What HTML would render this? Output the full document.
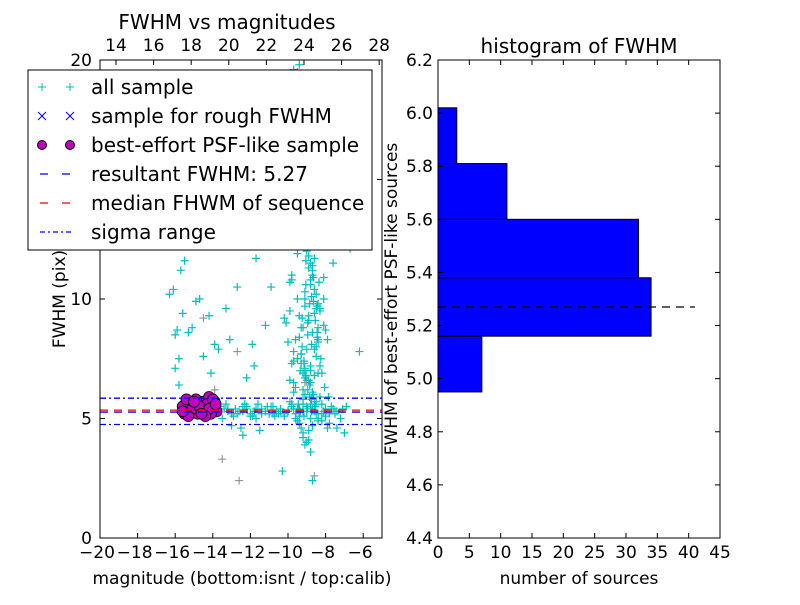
<!DOCTYPE html>
<html><head><meta charset="utf-8"><style>
body{margin:0;background:#fff;font-family:"Liberation Sans","DejaVu Sans",sans-serif}
svg text{font-family:"DejaVu Sans","Liberation Sans",sans-serif}
</style></head><body>
<svg id="c" width="800" height="600" xmlns="http://www.w3.org/2000/svg"></svg>
<script>
// ---- left chart data ----
const allMag=[-15.4,-15.2,-15,-14.8,-14.6,-14.3,-14,-13.8,-13.6,-13.4,-13.2,-13,-12.8,-12.6,-12.4,-12.2,-12,-11.8,-11.6,-11.4,-11.2,-11,-10.8,-10.6,-10.4,-10.2,-10,-9.8,-9.6,-9.4,-9.2,-9,-8.8,-8.6,-8.4,-8.2,-8,-7.8,-7.6,-7.4,-7.2,-7,-12.9,-12.3,-11.7,-11.1,-10.5,-9.9,-9.5,-9.1,-8.7,-8.3,-7.9,-7.5,-13.3,-11.9,-10.9,-9.7,-8.9,-8.1,
-10,-9.9,-9.8,-9.7,-9.6,-9.5,-9.4,-9.3,-9.2,-9.1,-9,-8.9,-8.8,-8.7,-8.6,-8.5,-8.4,-9.6,-9.4,-9.2,-9,-8.8,-8.6,-9.5,-9.3,-9.1,-8.9,-8.7,-9.7,-9.5,-9.3,-9.1,-9.4,-9.2,-9,-9.6,-9.3,-9.5,-9.2,-9.9,-9.7,-9.4,-9.1,-8.8,-10.4,-10.8,-11.2,-10.2,-9.8,-9.6,-8.3,-8.1,-9.4,-9.3,-9.6,-9.2,-9.8,-10.1,-9.5,-9.4,-9.7,-10.6,-11.5,-10.9,-11.9,-12.3,-8.5,-8.2,
-16.3,-16.1,-15.9,-15.7,-15.5,-16,-15.8,-15.3,-14.7,-14.2,-13.9,-13.3,-13.7,-14.5,-15.1,-15.6,-14.9,-12.7,-12.2,-11.8,-13.1,-14.1,-15.8,-16,
-11.7,-10.6,-9.9,-8.1,-7.6,-6.7,-6.2,-8.4,-8.7,-9.2,-10.3,-12.4,
-9.3,-9.2,-9.1,-9.0,-8.9,-8.8,-8.7,-8.6,-8.5,-8.4,-9.25,-9.15,-9.05,-8.95,-8.85,-8.75,-8.65,-8.55,-8.45,-9.3,-9.1,-8.9,-8.7,-8.5,-9.2,-9.0,-8.8,-8.6,-8.4,-9.35,-9.05,-8.75,-8.45,-9.15,-8.85,-8.55,-9.25,-8.95,-8.65,-8.35,-9.0,-8.8,-8.6,-8.7,-8.9,-9.1,-8.5,-8.3,-8.2,-8.1,-8.0,-7.9,-8.25,-8.05,-7.85,-8.6,-8.4,-8.2,-9.4,-9.6,
-13,-12.5,-12,-11.5,-11,-10.5,-10,-9.5,-9,-8.5,-8,-7.5,-12.7,-12.2,-11.7,-11.2,-10.7,-10.2,-9.7,-9.2,-8.7,-8.2,-7.7,-13.2,-12.4,-11.4,-10.4,-9.4,-8.4,-7.4,-7.1,-6.9,-11.8,-10.8,-9.8,-8.8,-7.8,-13.5,-14.5,-15.0,
-9.45,-9.35,-9.15,-8.95,-8.75,-8.55,-9.05,-8.85,-8.65,-8.45,-9.25,-8.95,-8.75,-8.6,-8.8,-9.0,-9.2,-8.4,-8.3,-8.5,-8.7,-8.9,-9.1,-9.3];
const allFwhm=[5.3,5.4,5.2,5.5,5.3,5.4,5.2,5.3,5.5,5.4,5.3,5.2,5.4,5.3,5.5,5.4,5.2,5.3,5.6,5.4,5.3,5.2,5.5,5.3,5.4,5.1,5.3,5.6,5.2,5.4,5.8,5.5,5.0,5.3,4.9,5.6,5.1,4.8,5.4,4.6,5.0,4.4,5.1,5.6,5.0,5.5,5.2,5.7,4.9,6.0,4.7,5.9,4.6,5.2,5.6,5.1,5.5,6.1,4.5,5.3,
8.2,9.5,11,6.5,12.8,7.5,14.2,8.8,15.5,10.3,16.8,9.1,7.2,13.6,11.7,8,9.8,17.5,18.9,13.2,12.1,10.6,6.8,19.5,15.9,14.6,11.3,8.6,7.8,10,12.4,7,9.3,6.2,16.2,18.1,13.8,15,17,6.6,7.4,8.4,9.7,11.5,14.9,12.9,8.9,9.2,10.8,8.3,9.6,10.9,12.6,7.7,6.3,6.9,7.3,9,11.9,19.8,19.6,13.4,16.5,10.5,8.1,14.1,12.2,13.1,10.2,10.4,8.7,11.2,11.6,7.1,
7.5,8.6,10,9.3,8.1,9.6,7.9,7.6,8.8,9.4,9.9,10.5,6.7,7.2,8.3,6.9,6.4,8.5,11.7,12.4,10.7,10,11.5,12.1,
7.8,6.9,2.4,4.4,2.8,4.3,4.6,4.2,3.9,4.0,4.1,3.6,
11.2,10.4,9.6,8.8,8.0,7.4,6.8,6.2,5.9,5.8,9.9,9.1,8.4,7.7,7.1,6.6,6.1,5.7,5.6,12.0,10.8,9.4,8.2,7.0,11.6,10.1,8.6,7.3,6.4,13.0,12.4,9.0,6.0,10.7,7.9,6.5,12.8,11.4,9.3,6.7,7.6,7.2,6.9,8.9,8.7,8.3,7.5,6.3,5.9,5.6,5.2,4.9,4.8,5.0,4.7,4.6,5.1,4.5,12.6,13.5,
5.3,5.4,5.3,5.2,5.4,5.3,5.2,5.5,5.4,5.3,5.1,5.2,5.4,5.3,5.4,5.2,5.5,5.4,5.3,5.2,5.3,5.1,5.0,5.3,5.4,5.5,5.3,5.2,5.5,5.6,5.2,5.0,5.2,5.4,5.6,5.3,5.1,5.4,5.3,5.5,
10.6,9.8,10.9,9.7,9.2,8.5,8.1,7.9,7.0,6.6,8.8,8.3,9.5,10.2,11.0,11.8,10.0,7.3,6.9,6.3,6.0,5.8,5.6,7.8];
const roughMag=[-13.5,-12.6,-8.6,-14.5,-12.7,-9.1,-11.2,-13.9];
const roughFwhm=[3.3,2.4,2.6,9.2,7.8,6.5,12.2,6.2];
const bestMag=[-15.6,-15.4,-15.2,-15,-14.8,-14.6,-14.4,-14.2,-14,-13.8,-15.5,-15.1,-14.9,-14.5,-14.3,-14.1,-13.9,-15.3,-14.7,-14.2,-14,-15.6,-14.4,-15,-14.6,-13.85];
const bestFwhm=[5.5,5.8,5.3,5.6,5.2,5.7,5.4,5.9,5.5,5.3,5.2,5.4,5.8,5.3,5.6,5.2,5.7,5.1,5.5,5.4,5.8,5.3,5.1,5.7,5.2,5.6];
const resultFwhm=5.27, medianFwhm=5.35, sigmaLo=4.75, sigmaHi=5.85;
const xTicks=[-20,-18,-16,-14,-12,-10,-8,-6];
const xTickLabels=['\u221220','\u221218','\u221216','\u221214','\u221212','\u221210','\u22128','\u22126'];
const yTicks=[0,5,10,15,20];
const topTicks=[14,16,18,20,22,24,26,28];
// ---- right histogram data ----
const binEdges=[4.95,5.16,5.38,5.60,5.81,6.02];
const counts=[7,34,32,11,3];
const hTicksX=[0,5,10,15,20,25,30,35,40,45];
const hTicksY=[4.4,4.6,4.8,5.0,5.2,5.4,5.6,5.8,6.0,6.2];

const svg=document.getElementById('c');const NS='http://www.w3.org/2000/svg';
function el(t,a,p){const e=document.createElementNS(NS,t);for(const k in a)e.setAttribute(k,a[k]);(p||svg).appendChild(e);return e;}
function tx(s,x,y,a){const e=el('text',Object.assign({x:x,y:y,'font-size':17,fill:'#000','text-anchor':'middle'},a||{}));e.textContent=s;return e;}
const L={x0:100,x1:382,y0:60,y1:538};
const mx=v=>L.x0+(v+20)/15*(L.x1-L.x0);
const my=v=>L.y1-v/20*(L.y1-L.y0);
const mtop=v=>mx(v-33.15);
const gL=el('g',{});

el('clipPath',{id:'cl'}).appendChild(el('rect',{x:L.x0,y:L.y0,width:L.x1-L.x0,height:L.y1-L.y0}));
const gP=el('g',{'clip-path':'url(#cl)'},gL);
for(let i=0;i<allMag.length;i++){const x=mx(allMag[i]),y=my(allFwhm[i]);
 const p=el('path',{d:`M${x-4},${y}H${x+4}M${x},${y-4}V${y+4}`,stroke:'#00bfbf','stroke-width':1.2},gP);
 }
for(let i=0;i<roughMag.length;i++){const x=mx(roughMag[i]),y=my(roughFwhm[i]);
 const p=el('path',{d:`M${x-4},${y}H${x+4}M${x},${y-4}V${y+4}`,stroke:'#888','stroke-width':1},gP);
 }
for(let i=0;i<bestMag.length;i++){const c=el('circle',{cx:mx(bestMag[i]),cy:my(bestFwhm[i]),r:5.5,fill:'#bf00bf',stroke:'#000','stroke-width':0.8},gP);
 }
function hl(v,col,dash,name){const l=el('line',{x1:L.x0,x2:L.x1,y1:my(v),y2:my(v),stroke:col,'stroke-width':1.3,'stroke-dasharray':dash},gP);
 }
hl(sigmaHi,'#0000ff','6,3,2,3','sigma-upper-line');hl(sigmaLo,'#0000ff','6,3,2,3','sigma-lower-line');
hl(medianFwhm,'#ff0000','8,6','median-line');hl(resultFwhm,'#0000ff','8,6','result-line');
el('rect',{x:L.x0,y:L.y0,width:L.x1-L.x0,height:L.y1-L.y0,fill:'none',stroke:'#000'},gL);
xTicks.forEach((t,i)=>{const x=mx(t);el('line',{x1:x,x2:x,y1:L.y1,y2:L.y1-5,stroke:'#000'},gL);tx(xTickLabels[i],x-3,L.y1+20);});
topTicks.forEach(t=>{const x=mtop(t);el('line',{x1:x,x2:x,y1:L.y0,y2:L.y0+5,stroke:'#000'},gL);tx(String(t),x,L.y0-9);});
yTicks.forEach(t=>{const y=my(t);el('line',{x1:L.x0,x2:L.x0+5,y1:y,y2:y,stroke:'#000'},gL);el('line',{x1:L.x1,x2:L.x1-5,y1:y,y2:y,stroke:'#000'},gL);tx(String(t),L.x0-8,y+6,{'text-anchor':'end'});});
const t1=tx('FWHM vs magnitudes',227,29,{'font-size':20});
const xl=tx('magnitude (bottom:isnt / top:calib)',242,584);
const yl=tx('FWHM (pix)',65,299,{transform:'rotate(-90 65 299)'});
const lg=el('g',{});
el('rect',{x:28,y:70,width:344,height:180,fill:'#fff',stroke:'#000'},lg);
const labels=['all sample','sample for rough FWHM','best-effort PSF-like sample','resultant FWHM: 5.27','median FHWM of sequence','sigma range'];
labels.forEach((s,i)=>{const y=87+i*29;
 [42,70].forEach(x=>{
  if(i==0)el('path',{d:`M${x-4},${y}H${x+4}M${x},${y-4}V${y+4}`,stroke:'#00bfbf'},lg);
  if(i==1)el('path',{d:`M${x-4},${y-4}L${x+4},${y+4}M${x+4},${y-4}L${x-4},${y+4}`,stroke:'#0000ff'},lg);
  if(i==2)el('circle',{cx:x,cy:y,r:4.5,fill:'#bf00bf',stroke:'#000'},lg);});
 if(i==3)el('line',{x1:40,x2:74,y1:y,y2:y,stroke:'#0000ff','stroke-width':1.3,'stroke-dasharray':'8,14'},lg);
 if(i==4)el('line',{x1:40,x2:74,y1:y,y2:y,stroke:'#ff0000','stroke-width':1.3,'stroke-dasharray':'8,14'},lg);
 if(i==5)el('line',{x1:40,x2:74,y1:y,y2:y,stroke:'#0000ff','stroke-width':1.3,'stroke-dasharray':'5,3,2,3'},lg);
 const t=tx(s,91,y+7,{'text-anchor':'start','font-size':20},lg);});
const R={x0:438,x1:720,y0:60,y1:538};
const hx=v=>R.x0+v/45*(R.x1-R.x0);
const hy=v=>R.y1-(v-4.4)/1.8*(R.y1-R.y0);
const gR=el('g',{});
counts.forEach((c,i)=>{const r=el('rect',{x:hx(0),y:hy(binEdges[i+1]),width:hx(c)-hx(0),height:hy(binEdges[i])-hy(binEdges[i+1]),fill:'#0000ff',stroke:'#000'},gR);
 });
const dl=el('line',{x1:hx(0),x2:hx(41),y1:hy(resultFwhm),y2:hy(resultFwhm),stroke:'#000','stroke-width':1.3,'stroke-dasharray':'8,6'},gR);

el('rect',{x:R.x0,y:R.y0,width:R.x1-R.x0,height:R.y1-R.y0,fill:'none',stroke:'#000'},gR);
hTicksX.forEach(t=>{const x=hx(t);el('line',{x1:x,x2:x,y1:R.y1,y2:R.y1-5,stroke:'#000'},gR);el('line',{x1:x,x2:x,y1:R.y0,y2:R.y0+5,stroke:'#000'},gR);tx(String(t),x,R.y1+20);});
hTicksY.forEach(t=>{const y=hy(t);el('line',{x1:R.x0,x2:R.x0+5,y1:y,y2:y,stroke:'#000'},gR);el('line',{x1:R.x1,x2:R.x1-5,y1:y,y2:y,stroke:'#000'},gR);tx(t.toFixed(1),R.x0-5,y+6,{'text-anchor':'end'});});
const t2=tx('histogram of FWHM',579,53,{'font-size':20});
const xl2=tx('number of sources',579,584);
const yl2=tx('FWHM of best-effort PSF-like sources',397,299,{transform:'rotate(-90 397 299)'});
</script>
</body></html>
